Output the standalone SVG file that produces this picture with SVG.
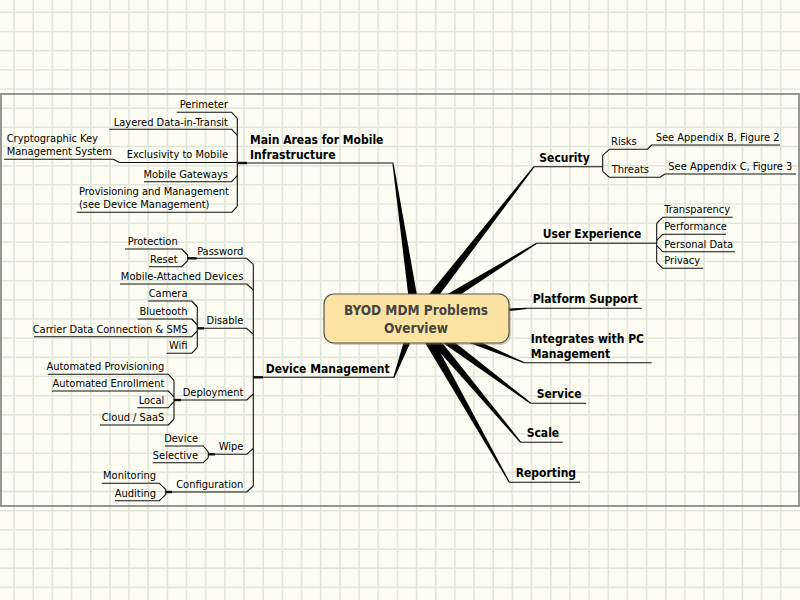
<svg xmlns="http://www.w3.org/2000/svg" width="800" height="600" viewBox="0 0 800 600">
<defs>
<style>
.grid{stroke:#e0e7d9;stroke-width:1.6;fill:none}
.t{font-family:'DejaVu Sans Condensed','DejaVu Sans',sans-serif;font-stretch:condensed;fill:#000}
.s{font-size:11px}
.m{font-size:12px;font-weight:bold}
.c{font-size:13.5px;font-weight:bold;fill:#444;text-anchor:middle}
.e{text-anchor:end}
.ln{stroke:#111;stroke-width:1.1;fill:none;stroke-linejoin:round}
.tk{stroke:#111;stroke-width:2.4;fill:none}
.br{fill:#000}
</style>
</defs>
<rect width="800" height="600" fill="#fdfdf3"/>
<path class="grid" d="M14 0V600M33.2 0V600M52.3 0V600M71.5 0V600M90.7 0V600M109.9 0V600M129 0V600M148.2 0V600M167.4 0V600M186.5 0V600M205.7 0V600M224.9 0V600M244 0V600M263.2 0V600M282.4 0V600M301.6 0V600M320.7 0V600M339.9 0V600M359.1 0V600M378.2 0V600M397.4 0V600M416.6 0V600M435.7 0V600M454.9 0V600M474.1 0V600M493.3 0V600M512.4 0V600M531.6 0V600M550.8 0V600M569.9 0V600M589.1 0V600M608.3 0V600M627.4 0V600M646.6 0V600M665.8 0V600M685 0V600M704.1 0V600M723.3 0V600M742.5 0V600M761.6 0V600M780.8 0V600M0 12.3H800M0 31.5H800M0 50.6H800M0 69.8H800M0 89H800M0 108.2H800M0 127.3H800M0 146.5H800M0 165.7H800M0 184.8H800M0 204H800M0 223.2H800M0 242.3H800M0 261.5H800M0 280.7H800M0 299.9H800M0 319H800M0 338.2H800M0 357.4H800M0 376.5H800M0 395.7H800M0 414.9H800M0 434H800M0 453.2H800M0 472.4H800M0 491.6H800M0 510.7H800M0 529.9H800M0 549.1H800M0 568.2H800M0 587.4H800"/>
<rect x="1" y="94" width="798" height="412" fill="none" stroke="#777" stroke-width="1.5"/>

<g id="connectors">
<!-- tapered main branches -->
<polygon class="br" points="420.9,317.3 393.6,163.4 392.4,163.6 411.1,318.7"/>
<polygon class="br" points="411.3,316.3 393.4,377.1 394.6,377.5 420.7,319.7"/>
<polygon class="br" points="419.9,321.1 534.5,167.1 533.5,166.3 412.1,314.9"/>
<polygon class="br" points="418.6,322.3 537,243.8 536.4,242.8 413.4,313.8"/>
<polygon class="br" points="416.4,323 526.8,308.9 526.7,307.7 415.6,313"/>
<polygon class="br" points="414.1,322.6 524.1,363.3 524.5,362.2 417.9,313.4"/>
<polygon class="br" points="413,322 530.3,403.8 531.1,402.8 419,314"/>
<polygon class="br" points="412.2,321.2 520.2,442.7 521.2,441.9 419.8,314.8"/>
<polygon class="br" points="411.7,320.5 508.8,482.6 509.8,482 420.4,315.5"/>

<!-- Main Areas -->
<path class="ln" d="M237.3,163H393.5"/>
<path class="tk" d="M237.3,163H247"/>
<path class="ln" d="M237.3,118.3V206.3"/>
<path class="ln" d="M176.7,112.3H231.7L237.3,118.3"/>
<path class="ln" d="M109.3,129.3H231.7L237.3,135.3"/>
<path class="ln" d="M119.5,162.5H237.3"/>
<path class="ln" d="M4,159.3H113.3L119.5,162.5"/>
<path class="ln" d="M144,181.7H231.7L237.3,175.7"/>
<path class="ln" d="M76.7,212.3H231.7L237.3,206.3"/>

<!-- Device Management -->
<path class="ln" d="M253.3,377.3H394.5"/>
<path class="tk" d="M253.3,377.3H263"/>
<path class="ln" d="M253.3,264.3V486"/>
<path class="ln" d="M187.7,258.3H246.7L253.3,264.3"/>
<path class="tk" d="M187.7,258.3H196.7"/>
<path class="ln" d="M125,249H181.7L187.7,255"/>
<path class="ln" d="M149,266.7H181.7L187.7,260.7"/>
<path class="ln" d="M187.7,255V260.7"/>
<path class="ln" d="M120,284H246.7L253.3,290"/>
<path class="ln" d="M197.3,328.3H246.7L253.3,334.3"/>
<path class="tk" d="M197.3,328.3H204"/>
<path class="ln" d="M148.3,301H191.7L197.3,307"/>
<path class="ln" d="M137.7,319H191.7L197.3,325"/>
<path class="ln" d="M34,336.7H191.7L197.3,331"/>
<path class="ln" d="M166.7,353.3H191.7L197.3,347.3"/>
<path class="ln" d="M197.3,307V347.3"/>
<path class="ln" d="M174,400H246.7L253.3,394"/>
<path class="tk" d="M174,400H181"/>
<path class="ln" d="M47.7,374.3H168.3L174,380.3"/>
<path class="ln" d="M51.7,391H168.3L174,397"/>
<path class="ln" d="M137.3,407.7H168.3L174,401.7"/>
<path class="ln" d="M100,425H168.3L174,419"/>
<path class="ln" d="M174,380.3V419"/>
<path class="ln" d="M208.3,454.3H246.7L253.3,448.3"/>
<path class="tk" d="M208.3,454.3H215"/>
<path class="ln" d="M165,446H203.3L208.3,452"/>
<path class="ln" d="M152.7,462.7H203.3L208.3,457.7"/>
<path class="ln" d="M208.3,452V457.7"/>
<path class="ln" d="M165.7,492H246.7L253.3,486"/>
<path class="tk" d="M165.7,492H172"/>
<path class="ln" d="M101.7,483.3H159.3L165.7,489.3"/>
<path class="ln" d="M115,500.7H159.3L165.7,494.7"/>
<path class="ln" d="M165.7,489.3V494.7"/>

<!-- Security -->
<path class="ln" d="M534,166.7H602.7"/>
<path class="ln" d="M602.7,155.3V171.3"/>
<path class="ln" d="M602.7,155.3L609.3,149.3H647.3L651.7,145H780"/>
<path class="ln" d="M602.7,171.3L609.3,177.3H660L665,174H796"/>

<!-- User Experience -->
<path class="ln" d="M536.7,243.3H656.7"/>
<path class="ln" d="M656.7,223.3V262.3"/>
<path class="ln" d="M656.7,223.3L662.7,217.3H732.7"/>
<path class="ln" d="M656.7,240.3L662.7,234.3H726"/>
<path class="ln" d="M656.7,245.7L662.7,251.7H735"/>
<path class="ln" d="M656.7,262.3L662.7,268.3H703.3"/>

<!-- other main topics -->
<path class="ln" d="M526.7,308.3H641.7"/>
<path class="ln" d="M524.3,362.7H651.7"/>
<path class="ln" d="M530.7,403.3H586"/>
<path class="ln" d="M520.7,442.3H562.7"/>
<path class="ln" d="M509.3,482.3H580"/>
</g>

<g id="center">
<rect x="326" y="296" width="185" height="49" rx="10" fill="#8a7a5a" opacity="0.35"/>
<rect x="324" y="294" width="185" height="49" rx="10" fill="#fde3a2" stroke="#555" stroke-width="1.2"/>
<text class="t c" x="416" y="315">BYOD MDM Problems</text>
<text class="t c" x="416" y="332.5">Overview</text>
</g>

<g id="main-areas"><text class="t m" x="250" y="143.5">Main Areas for Mobile</text><text class="t m" x="250" y="158.5">Infrastructure</text></g>
<g id="perimeter"><text class="t s e" x="228" y="108.3">Perimeter</text></g>
<g id="layered"><text class="t s e" x="228" y="125.5">Layered Data-in-Transit</text></g>
<g id="exclusivity"><text class="t s e" x="228" y="158">Exclusivity to Mobile</text></g>
<g id="crypto"><text class="t s" x="6.7" y="142.3">Cryptographic Key</text><text class="t s" x="6.7" y="155.3">Management System</text></g>
<g id="gateways"><text class="t s e" x="228" y="177.7">Mobile Gateways</text></g>
<g id="provisioning"><text class="t s" x="79" y="195.3">Provisioning and Management</text><text class="t s" x="79" y="208.3">(see Device Management)</text></g>

<g id="device-management"><text class="t m" x="265.7" y="372.5">Device Management</text></g>
<g id="password"><text class="t s e" x="243.3" y="254.5">Password</text></g>
<g id="protection"><text class="t s e" x="177.7" y="245">Protection</text></g>
<g id="reset"><text class="t s e" x="177.7" y="262.7">Reset</text></g>
<g id="mobile-attached"><text class="t s e" x="243.3" y="280">Mobile-Attached Devices</text></g>
<g id="disable"><text class="t s e" x="243.3" y="324.3">Disable</text></g>
<g id="camera"><text class="t s e" x="187.5" y="297">Camera</text></g>
<g id="bluetooth"><text class="t s e" x="187.5" y="315">Bluetooth</text></g>
<g id="carrier"><text class="t s e" x="187.5" y="332.7">Carrier Data Connection &amp; SMS</text></g>
<g id="wifi"><text class="t s e" x="187.5" y="349.3">Wifi</text></g>
<g id="deployment"><text class="t s e" x="243.3" y="396">Deployment</text></g>
<g id="auto-prov"><text class="t s e" x="164.3" y="370.3">Automated Provisioning</text></g>
<g id="auto-enroll"><text class="t s e" x="164.3" y="387">Automated Enrollment</text></g>
<g id="local"><text class="t s e" x="164.3" y="403.7">Local</text></g>
<g id="cloud"><text class="t s e" x="164.3" y="421">Cloud / SaaS</text></g>
<g id="wipe"><text class="t s e" x="243.3" y="450.3">Wipe</text></g>
<g id="wipe-device"><text class="t s e" x="198" y="442">Device</text></g>
<g id="selective"><text class="t s e" x="198" y="458.7">Selective</text></g>
<g id="configuration"><text class="t s e" x="243.3" y="488">Configuration</text></g>
<g id="monitoring"><text class="t s e" x="156" y="479.3">Monitoring</text></g>
<g id="auditing"><text class="t s e" x="156" y="496.7">Auditing</text></g>

<g id="security"><text class="t m" x="539.3" y="161.5">Security</text></g>
<g id="risks"><text class="t s" x="611" y="145.3">Risks</text></g>
<g id="appendix-b"><text class="t s" x="655.7" y="141">See Appendix B, Figure 2</text></g>
<g id="threats"><text class="t s" x="611.7" y="173.3">Threats</text></g>
<g id="appendix-c"><text class="t s" x="668.3" y="170">See Appendix C, Figure 3</text></g>
<g id="user-experience"><text class="t m" x="542.7" y="238.3">User Experience</text></g>
<g id="transparency"><text class="t s" x="664.3" y="213.3">Transparency</text></g>
<g id="performance"><text class="t s" x="664.3" y="230.3">Performance</text></g>
<g id="personal-data"><text class="t s" x="664.3" y="247.7">Personal Data</text></g>
<g id="privacy"><text class="t s" x="664.3" y="264.3">Privacy</text></g>
<g id="platform-support"><text class="t m" x="532.7" y="303.3">Platform Support</text></g>
<g id="integrates"><text class="t m" x="530.7" y="342.7">Integrates with PC</text><text class="t m" x="530.7" y="357.5">Management</text></g>
<g id="service"><text class="t m" x="536.7" y="398.3">Service</text></g>
<g id="scale"><text class="t m" x="526.7" y="437.3">Scale</text></g>
<g id="reporting"><text class="t m" x="515.7" y="477.3">Reporting</text></g>
</svg>
